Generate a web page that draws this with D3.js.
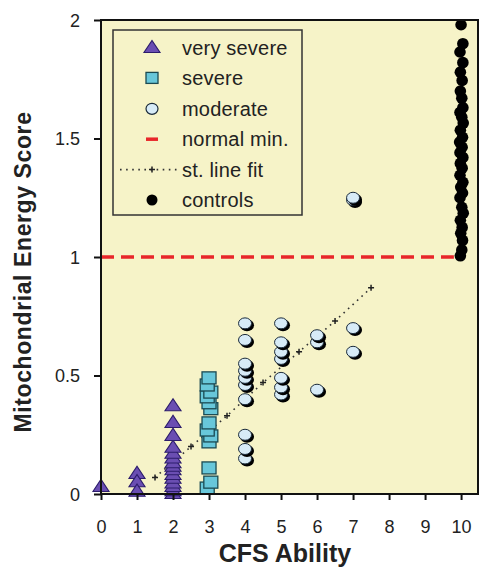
<!DOCTYPE html>
<html>
<head>
<meta charset="utf-8">
<script src="https://cdn.jsdelivr.net/npm/d3@7/dist/d3.min.js"></script>
<style>
  body { margin: 0; background: #fff; }
  text { font-family: "Liberation Sans", Arial, sans-serif; }
</style>
</head>
<body>
<svg id="chart"></svg>
<script>
// values
var verySevere = [[0,0.03],[1,0.01],[1,0.05],[1,0.085],
  [2,0.37],[2,0.30],[2,0.245],[2,0.195],[2,0.17],[2,0.15],[2,0.13],[2,0.115],
  [2,0.10],[2,0.08],[2,0.065],[2,0.045],[2,0.03],[2,0.012],[2,0.0]];
var severe = [[3.0,0.49],[2.95,0.46],[3.05,0.43],[2.95,0.41],[3.0,0.385],[3.05,0.36],
  [3.0,0.30],[2.95,0.27],[3.05,0.245],[3.0,0.22],[3.0,0.11],[3.05,0.05],[2.95,0.025]];
var moderate = [[4,0.72],[4,0.65],[4,0.55],[4,0.52],[4,0.49],[4,0.46],[4,0.40],[4,0.25],[4,0.19],[4,0.15],
  [5,0.72],[5,0.64],[5,0.60],[5,0.57],[5,0.49],[5,0.45],[5,0.42],
  [6,0.67],[6,0.64],[6,0.44],
  [7,0.70],[7,0.60],[7,1.25],[7,1.24]];
var controls = [[10.0,1.98],[10.05,1.90],[9.97,1.865],[10.05,1.82],[9.98,1.78],[10.03,1.745],
  [9.98,1.70],[10.02,1.67],[10.05,1.63],[9.97,1.61],[10.02,1.59],[10.06,1.565],[9.98,1.535],
  [10.04,1.505],[9.96,1.485],[10.03,1.463],[9.97,1.44],[10.05,1.42],[9.98,1.395],[10.03,1.375],
  [9.97,1.345],[10.05,1.315],[9.99,1.295],[10.04,1.27],[9.97,1.25],[10.02,1.21],[10.06,1.185],
  [9.98,1.155],[10.03,1.125],[9.99,1.10],[10.04,1.07],[10.02,1.03],[9.98,1.005]];
var fitLine = [[1.5,0.07],[2.5,0.20],[3.5,0.33],[4.5,0.47],[5.5,0.60],[6.5,0.73],[7.5,0.87]];
var normalMin = 1;
var xTicks = [0,1,2,3,4,5,6,7,8,9,10];
var yTicks = [0,0.5,1,1.5,2];
var legendLabels = ["very severe","severe","moderate","normal min.","st. line fit","controls"];

var width = 480, height = 569;
var pLeft = 101, pRight = 478, pTop = 20, pBottom = 494;

var svg = d3.select("#chart").attr("width", width).attr("height", height);

var x = d3.scaleLinear().domain([0, 10.47]).range([pLeft, pRight]);
var y = d3.scaleLinear().domain([0, 2]).range([pBottom, pTop]);

var purple = "#6a4eb2", teal = "#68c7da", pale = "#d7ebf7", bg = "#f6f3c8";

// plot background
svg.append("rect")
  .attr("x", pLeft).attr("y", pTop)
  .attr("width", pRight - pLeft).attr("height", pBottom - pTop)
  .attr("fill", bg);

// normal minimum line
svg.append("line")
  .attr("x1", x(0)).attr("x2", x(9.8))
  .attr("y1", y(normalMin)).attr("y2", y(normalMin))
  .attr("stroke", "#e8262a").attr("stroke-width", 3.5)
  .attr("stroke-dasharray", "13,7");

// straight line fit
svg.append("path")
  .datum(fitLine)
  .attr("d", d3.line().x(function(d){ return x(d[0]); }).y(function(d){ return y(d[1]); }))
  .attr("fill", "none").attr("stroke", "#333").attr("stroke-width", 1.6)
  .attr("stroke-dasharray", "1.6,4.5");
svg.selectAll(".fitmark").data(fitLine).enter()
  .append("path")
  .attr("class", "fitmark")
  .attr("transform", function(d){ return "translate(" + x(d[0]) + "," + y(d[1]) + ")"; })
  .attr("d", "M-3,0H3M0,-3V3")
  .attr("stroke", "#222").attr("stroke-width", 1.5);

var tri = d3.symbol().type(d3.symbolTriangle).size(85);

function drawTri(g, px, py) {
  g.append("path")
    .attr("transform", "translate(" + px + "," + (py + 0.5) + ") scale(1.15,1)")
    .attr("d", tri())
    .attr("fill", purple).attr("stroke", "#2c1c6c").attr("stroke-width", 1);
}
function drawSq(g, px, py) {
  g.append("rect")
    .attr("x", px - 7).attr("y", py - 6)
    .attr("width", 14).attr("height", 12)
    .attr("fill", teal).attr("stroke", "#1b4a52").attr("stroke-width", 1.3);
}
function drawCirc(g, px, py) {
  g.append("ellipse")
    .attr("cx", px + 2).attr("cy", py + 2).attr("rx", 7).attr("ry", 6)
    .attr("fill", "#000");
  g.append("ellipse")
    .attr("cx", px).attr("cy", py).attr("rx", 6.5).attr("ry", 5.5)
    .attr("fill", pale).attr("stroke", "#1a2a3a").attr("stroke-width", 1);
}

var marks = svg.append("g");
verySevere.slice().reverse().forEach(function(d){ drawTri(marks, x(d[0]), y(d[1])); });
severe.slice().reverse().forEach(function(d){ drawSq(marks, x(d[0]), y(d[1])); });
moderate.slice().reverse().forEach(function(d){ drawCirc(marks, x(d[0]), y(d[1])); });
marks.selectAll(".ctrl").data(controls).enter()
  .append("circle")
  .attr("class", "ctrl")
  .attr("cx", function(d){ return x(d[0]); })
  .attr("cy", function(d){ return y(d[1]); })
  .attr("r", 5.8)
  .attr("fill", "#000");

// frame
svg.append("rect")
  .attr("x", pLeft).attr("y", pTop)
  .attr("width", pRight - pLeft).attr("height", pBottom - pTop)
  .attr("fill", "none").attr("stroke", "#111").attr("stroke-width", 2);

// axes
var xAxis = d3.axisBottom(x).tickValues(xTicks).tickSize(6).tickSizeOuter(0).tickPadding(20);
var yAxis = d3.axisLeft(y).tickValues(yTicks).tickSize(7).tickSizeOuter(0).tickPadding(14)
  .tickFormat(function(d){ return d3.format("")(d); });

var gx = svg.append("g").attr("transform", "translate(0," + pBottom + ")").call(xAxis);
var gy = svg.append("g").attr("transform", "translate(" + pLeft + ",0)").call(yAxis);
[gx, gy].forEach(function(g){
  g.select(".domain").remove();
  g.selectAll(".tick line").attr("stroke", "#111").attr("stroke-width", 2);
  g.selectAll(".tick text").attr("font-size", 18).attr("fill", "#222")
    .style("font-family", "Liberation Sans, Arial, sans-serif");
});
gy.selectAll(".tick text").attr("dy", "0.36em");

svg.append("text")
  .attr("x", 285).attr("y", 562)
  .attr("text-anchor", "middle")
  .attr("font-size", 25).attr("font-weight", "bold").attr("fill", "#222")
  .text("CFS Ability");

svg.append("text")
  .attr("transform", "translate(31,272) rotate(-90)")
  .attr("text-anchor", "middle")
  .attr("font-size", 23).attr("font-weight", "bold").attr("fill", "#222")
  .attr("letter-spacing", 0.6)
  .text("Mitochondrial Energy Score");

// legend
var lg = svg.append("g");
lg.append("rect")
  .attr("x", 113).attr("y", 30).attr("width", 189).attr("height", 185)
  .attr("fill", bg).attr("stroke", "#333").attr("stroke-width", 1.5);
var rowY = d3.scalePoint().domain(legendLabels).range([48, 200]);
var sx = 152;
legendLabels.forEach(function(lab, i){
  var yy = rowY(lab);
  if (i == 0) drawTri(lg, sx, yy);
  if (i == 1) lg.append("rect").attr("x", sx - 6).attr("y", yy - 6).attr("width", 12).attr("height", 11)
      .attr("fill", teal).attr("stroke", "#1b4a52").attr("stroke-width", 1.3);
  if (i == 2) lg.append("ellipse").attr("cx", sx).attr("cy", yy).attr("rx", 6).attr("ry", 5.5)
      .attr("fill", pale).attr("stroke", "#1a2a3a").attr("stroke-width", 1.2);
  if (i == 3) lg.append("line").attr("x1", sx - 6).attr("x2", sx + 6).attr("y1", yy).attr("y2", yy)
      .attr("stroke", "#e8262a").attr("stroke-width", 3.5);
  if (i == 4) {
    lg.append("line").attr("x1", 120).attr("x2", 178).attr("y1", yy).attr("y2", yy)
      .attr("stroke", "#333").attr("stroke-width", 1.6).attr("stroke-dasharray", "1.6,4.5");
    lg.append("path").attr("transform", "translate(" + sx + "," + yy + ")")
      .attr("d", "M-3,0H3M0,-3V3").attr("stroke", "#222").attr("stroke-width", 1.5);
  }
  if (i == 5) lg.append("circle").attr("cx", sx).attr("cy", yy).attr("r", 5.5).attr("fill", "#000");
  lg.append("text")
    .attr("x", 182).attr("y", yy).attr("dy", "0.35em")
    .attr("font-size", 20).attr("fill", "#222")
    .attr("letter-spacing", 0.2)
    .text(lab);
});
</script>
</body>
</html>
